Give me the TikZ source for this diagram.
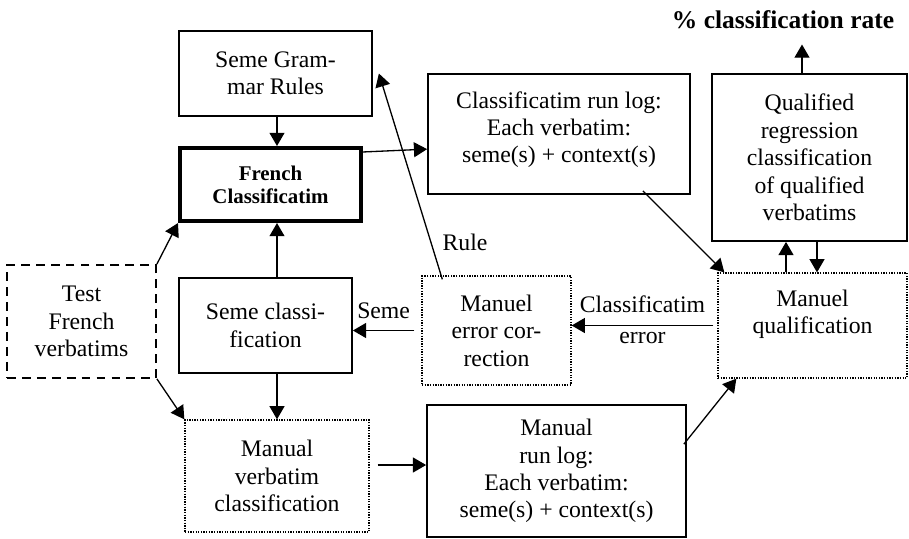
\documentclass[tikz,border=0pt]{standalone}
\usepackage{fontspec}
\setmainfont{Liberation Serif}
\usetikzlibrary{arrows.meta}
\usetikzlibrary{positioning}
\tikzset{>={Triangle[length=7.5pt,width=8.5pt]},
         flow/.style = {->, line width=0.75pt},
         box/.style = {draw, line width=1pt, align=center, inner sep=2pt,
                       font=\fontsize{13.5}{15.6}\selectfont},
         mainbox/.style = {box, line width=2.3pt,
                           font=\bfseries\fontsize{11.9}{13}\selectfont},
         dotbox/.style = {box, line width=0.75pt, dash pattern=on 0.75pt off 0.75pt},
         dashbox/.style = {box, dash pattern=on 5pt off 3.5pt},
         lbl/.style = {inner sep=0pt, align=center,
                       font=\fontsize{13.5}{15.6}\selectfont}}

\begin{document}
\begin{tikzpicture}
    \useasboundingbox (0, 0) rectangle (18.18, -10.76);

    % left column
    \node [box, minimum width=3.86cm, minimum height=1.70cm] (rules) at (5.51, -1.47)
      {Seme Gram-\\mar Rules};
    \node [mainbox, minimum width=3.62cm, minimum height=1.46cm] (french) at (5.41, -3.69)
      {French\\Classificatim};
    \node [dashbox, minimum width=2.98cm, minimum height=2.26cm] (test) at (1.63, -6.43)
      {Test\\French\\verbatims};
    \node [box, minimum width=3.46cm, minimum height=1.90cm] (semecl) at (5.31, -6.51)
      {Seme classi-\\fication};
    \node [dotbox, minimum width=3.68cm, minimum height=2.24cm] (manverb) at (5.54, -9.52)
      {Manual\\verbatim\\classification};

    % middle and right
    \node [box, minimum width=5.24cm, minimum height=2.40cm] (runlog) at (11.18, -2.68)
      {Classificatim run log:\\Each verbatim:\\seme(s) + context(s)\\[-0.5\baselineskip]~};
    \node [dotbox, minimum width=2.98cm, minimum height=2.18cm] (correct) at (9.93, -6.61)
      {Manuel\\error cor-\\rection};
    \node [box, minimum width=5.18cm, minimum height=2.64cm] (manlog) at (11.13, -9.42)
      {Manual\\run log:\\Each verbatim:\\seme(s) + context(s)};
    \node [box, minimum width=3.90cm, minimum height=3.34cm] (qualified) at (16.19, -3.15)
      {Qualified\\regression\\classification\\of qualified\\verbatims};
    \node [dotbox, minimum width=3.78cm, minimum height=2.10cm] (qualif) at (16.25, -6.51)
      {Manuel\\qualification\\~};
    \node [lbl, font=\bfseries\fontsize{14.5}{16}\selectfont] (rate) at (15.66, -0.40)
      {\% classification rate};

    % connectors
    \draw [flow] (rules.south -| manverb) -- (french.north -| manverb);
    \draw [flow] (semecl.north -| manverb) -- (french.south -| manverb);
    \draw [flow] (semecl.south -| manverb) -- (manverb.north);
    \draw [flow] (test.north east) -- (french.south west);
    \draw [flow] (test.south east) -- (manverb.north west);
    \draw [flow] ([yshift=-0.12cm]french.north east) -- ([yshift=-1.52cm]runlog.north west);
    \draw [flow] ([shift={(0.42,-0.08)}]correct.north west) -- ([xshift=0.12cm]rules.east)
      node [lbl, pos=0.18, right=0.22cm] {Rule};
    \draw [flow] ([xshift=-0.14cm]correct.west) -- (correct.west -| semecl.east)
      node [lbl, midway, above=0.22cm] {Seme};
    \draw [flow] ([xshift=-0.08cm]qualif.west) -- (qualif.west -| correct.east)
      node [lbl, midway, yshift=0.12cm] {Classificatim\\[2pt]error};
    \draw [flow] ([shift={(-0.96,0.08)}]runlog.south east) -- ([xshift=0.14cm]qualif.north west);
    \draw [flow] ([shift={(-0.06,-0.80)}]manlog.north east) -- ([xshift=0.38cm]qualif.south west);

    \coordinate (log) at ([shift={(0.16,0.22)}]manverb.east);
    \draw [flow] (log) -- (log -| manlog.west);

    \coordinate (up) at ([xshift=-0.47cm]qualified.south);
    \coordinate (down) at ([xshift=0.15cm]qualified.south);
    \coordinate (out) at ([xshift=-0.15cm]qualified.north);
    \draw [flow] (up |- qualif.north) -- (up);
    \draw [flow] (down) -- (down |- qualif.north);
    \draw [flow, shorten >=0.3cm] (out) -- (out |- rate.south);
\end{tikzpicture}
\end{document}
